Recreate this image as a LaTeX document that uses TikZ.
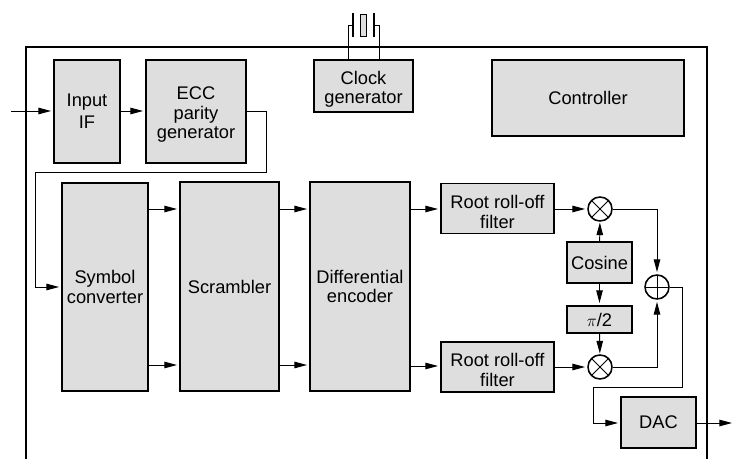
\documentclass[tikz,border=0pt]{standalone}
\usepackage{fontspec}
\setmainfont{Liberation Sans}
\usetikzlibrary{arrows.meta}
\newcommand{\lowered}{\rule{0pt}{14pt}}
\begin{document}
\begin{tikzpicture}[x=0.025cm, y=-0.025cm, >={Stealth[inset=0pt, length=9pt, width=4.6pt]},
                line width=0.7pt,
                block/.style={rectangle, draw, fill=black!13, line width=1.1pt, inner sep=0pt, align=center,
                        font=\fontsize{13}{13.9}\selectfont},
                mixer/.style={circle, draw, fill=white, line width=1.1pt, minimum size=0.6cm, inner sep=0pt,
                        path picture={
                                \draw[line width=0.7pt] (path picture bounding box.north west) -- (path picture bounding box.south east);
                                \draw[line width=0.7pt] (path picture bounding box.north east) -- (path picture bounding box.south west);
                            }},
                adder/.style={circle, draw, fill=white, line width=1.1pt, minimum size=0.6cm, inner sep=0pt,
                        path picture={
                                \draw[line width=0.7pt] (path picture bounding box.north) -- (path picture bounding box.south);
                                \draw[line width=0.7pt] (path picture bounding box.west) -- (path picture bounding box.east);
                            }}
            ]
            \useasboundingbox (0,0) rectangle (738,459);

            % Chip outline, open at the bottom
            \draw[line width=1.9pt] (26,459) -- (26,47) -- (707,47) -- (707,459);

            % Top row
            \node[block, minimum width=1.65cm, minimum height=2.58cm] (input) at (87,111.5) {Input\\[1.5pt]IF};
            \node[block, minimum width=2.5cm, minimum height=2.58cm] (ecc) at (196,111.5) {\lowered ECC\\parity\\generator};
            \node[block, minimum width=2.48cm, minimum height=1.3cm] (clock) at (363.5,86) {\lowered Clock\\generator};
            \node[block, minimum width=4.8cm, minimum height=1.9cm] (ctrl) at (588,98) {Controller};

            % Crystal
            \node[draw, fill=black!13, minimum width=0.17cm, minimum height=0.55cm, inner sep=0pt] (xtal) at (363.5,25) {};
            \coordinate (platel) at (353,25);
            \coordinate (plater) at (374,25);
            \draw[line width=1.1pt] (353,13) -- (353,37);
            \draw[line width=1.1pt] (374,13) -- (374,37);
            \draw (clock.north -| 348,0) -- (348,25) -- (platel);
            \draw (clock.north -| 379,0) -- (379,25) -- (plater);

            % Signal path blocks
            \node[block, minimum width=2.15cm, minimum height=5.2cm] (symbol) at (105,287) {Symbol\\converter};
            \node[block, minimum width=2.48cm, minimum height=5.22cm] (scramble) at (229.5,286.5) {Scrambler};
            \node[block, minimum width=2.5cm, minimum height=5.22cm] (diff) at (360,286.5) {Differential\\encoder};
            \node[block, minimum width=2.83cm, minimum height=1.25cm] (rootA) at (497.5,208.5) {\lowered Root roll-off\\filter};
            \node[block, minimum width=2.83cm, minimum height=1.25cm] (rootB) at (497.5,367) {\lowered Root roll-off\\filter};

            % Modulator
            \node[mixer] (mixA) at (600,209) {};
            \node[mixer] (mixB) at (600,367) {};
            \node[adder] (sum) at (657,287) {};
            \node[block, minimum width=1.63cm, minimum height=1.03cm] (cosine) at (599.5,262.5) {Cosine};
            \node[block, minimum width=1.63cm, minimum height=0.68cm] (shift) at (599.5,319.5) {$\pi$/2};
            \node[block, minimum width=1.88cm, minimum height=1.28cm] (dac) at (658.5,422.5) {DAC};

            % Input and parity path
            \coordinate (in) at (11,111);
            \coordinate (out) at (732,423);
            \draw[->, shorten >=1.5pt] (in) -- (input.west |- in);
            \draw[->, shorten >=1.5pt] (input.east |- in) -- (ecc.west |- in);
            \draw[->, shorten >=1.5pt] (ecc.east |- in) -- (266,111) -- (266,172) -- (35,172) -- (35,287) -- (symbol.west |- 0,287);

            % Parallel paths
            \draw[->, shorten >=1.5pt] (symbol.east |- 0,209) -- (scramble.west |- 0,209);
            \draw[->, shorten >=1.5pt] (symbol.east |- 0,365) -- (scramble.west |- 0,365);
            \draw[->, shorten >=1.5pt] (scramble.east |- 0,209) -- (diff.west |- 0,209);
            \draw[->, shorten >=1.5pt] (scramble.east |- 0,365) -- (diff.west |- 0,365);
            \draw[->, shorten >=1.5pt] (diff.east |- 0,209) -- (rootA.west |- 0,209);
            \draw[->, shorten >=1.5pt] (diff.east |- 0,366) -- (rootB.west |- 0,366);
            \draw[->, shorten >=1.5pt] (rootA.east |- mixA) -- (mixA);
            \draw[->, shorten >=1.5pt] (rootB.east |- mixB) -- (mixB);

            % Carrier
            \draw[->, shorten >=0.5pt] (cosine) -- (mixA);
            \draw[->, shorten >=1.5pt] (cosine) -- (shift);
            \draw[->, shorten >=0.5pt] (shift) -- (mixB);

            % Sum and output
            \draw[->, shorten >=1.5pt] (mixA) -| (sum);
            \draw[->, shorten >=1.5pt] (mixB) -| (sum);
            \draw[->, shorten >=1.5pt] (sum) -- (682,287) -- (682,387) -- (593,387) -- (593,423) -- (dac.west |- out);
            \draw[->] (dac.east |- out) -- (out);

        \end{tikzpicture}
\end{document}
